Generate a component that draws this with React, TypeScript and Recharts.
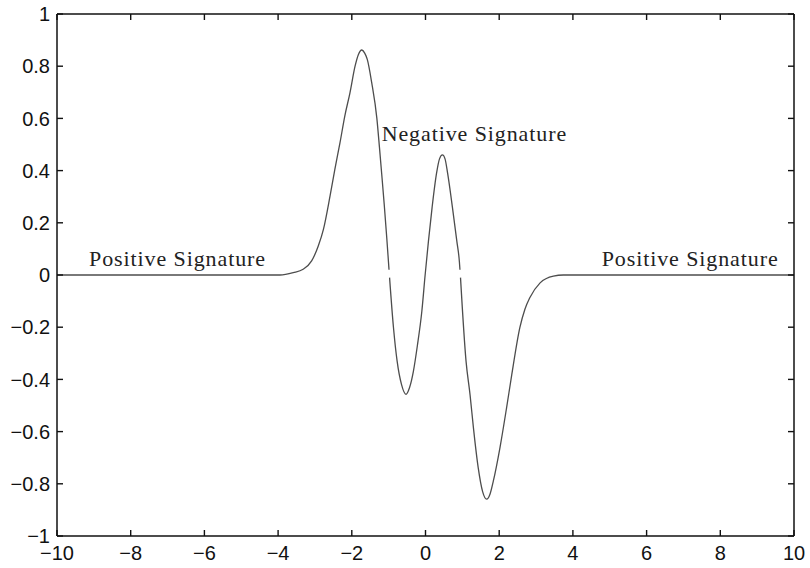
import { LineChart, Line, XAxis, YAxis, ReferenceDot } from 'recharts';

// wavelet signature, sampled along x; null entries mark the two breaks in the trace
const xValues = [
  -10, -3.95, -3.59, -3.32, -3.09, -2.91, -2.77, -2.59, -2.46, -2.32, -2.19, -2.05,
  -1.91, -1.82, -1.73, -1.65, -1.58, -1.46, -1.32, -1.25, -1.19, -1.12, -1.05, -1.0,
  -0.99, -0.982, -0.975, -0.87, -0.77, -0.65, -0.53, -0.43, -0.33, -0.22, -0.1, -0.01,
  0.08, 0.18, 0.3, 0.38, 0.46, 0.53, 0.6, 0.73, 0.85, 0.92, 0.935, 0.943, 0.95, 1.1,
  1.21, 1.3, 1.43, 1.55, 1.66, 1.75, 1.84, 2.02, 2.2, 2.34, 2.56, 2.7, 2.83, 3.11,
  3.47, 3.74, 10,
];
const yValues = [
  0, 0, 0.009, 0.022, 0.054, 0.111, 0.175, 0.303, 0.405, 0.507, 0.609, 0.698,
  0.801, 0.845, 0.862, 0.85, 0.826, 0.737, 0.6, 0.49, 0.39, 0.27, 0.14, 0.04,
  0.02, null, -0.01, -0.2, -0.33, -0.42, -0.457, -0.43, -0.37, -0.27, -0.14, 0,
  0.13, 0.26, 0.39, 0.445, 0.46, 0.445, 0.39, 0.26, 0.13, 0.05, 0.02, null, -0.01, -0.33,
  -0.46, -0.585, -0.738, -0.83, -0.859, -0.84, -0.79, -0.662, -0.509, -0.383, -0.202, -0.13, -0.087, -0.03,
  -0.004, 0, 0,
];

const xTicks = [-10, -8, -6, -4, -2, 0, 2, 4, 6, 8, 10];
const yTicks = [-1, -0.8, -0.6, -0.4, -0.2, 0, 0.2, 0.4, 0.6, 0.8, 1];

const noteX = [-9.13, -1.19, 4.78];
const noteY = [0.034, 0.513, 0.034];
const noteText = ['Positive Signature', 'Negative Signature', 'Positive Signature'];

const curve = xValues.map((x, i) => ({ x, y: yValues[i] }));
const notes = noteText.map((text, i) => ({ x: noteX[i], y: noteY[i], text }));

// plot box edges, from the chart margins and axis sizes below
const PLOT_TOP = 14;
const PLOT_RIGHT = 794;
const TICK = 6;
const INK = '#111';

const fmt = (v: number) => String(v).replace('-', '\u2212');
const tickFont = { fontFamily: '"Liberation Sans", Arial, sans-serif', fontSize: 20, fill: INK };
const frameLine = { stroke: INK, strokeWidth: 1.5 };

// inward tick marks, repeated on the opposite side of the box
function BottomTick({ x, y, payload }: any) {
  return (
    <g>
      <line x1={x} x2={x} y1={y} y2={y - TICK} stroke={INK} strokeWidth={1.4} />
      <line x1={x} x2={x} y1={PLOT_TOP} y2={PLOT_TOP + TICK} stroke={INK} strokeWidth={1.4} />
      <text x={x} y={y + 10} dy="0.71em" textAnchor="middle" {...tickFont}>
        {fmt(payload.value)}
      </text>
    </g>
  );
}

function LeftTick({ x, y, payload }: any) {
  return (
    <g>
      <line x1={x} x2={x + TICK} y1={y} y2={y} stroke={INK} strokeWidth={1.4} />
      <line x1={PLOT_RIGHT} x2={PLOT_RIGHT - TICK} y1={y} y2={y} stroke={INK} strokeWidth={1.4} />
      <text x={x - 7} y={y} dy="0.355em" textAnchor="end" {...tickFont}>
        {fmt(payload.value)}
      </text>
    </g>
  );
}

function NoteLabel({ viewBox, text }: any) {
  return (
    <text
      x={viewBox.x}
      y={viewBox.y}
      fontFamily='"Liberation Serif", "Times New Roman", serif'
      fontSize={22}
      letterSpacing={0.9}
      fill="#222"
    >
      {text}
    </text>
  );
}

export default function App() {
  return (
    <div style={{ position: 'absolute', left: 0, top: 0, background: '#fff' }}>
      <LineChart
        width={810}
        height={568}
        data={curve}
        margin={{ top: 14, right: 16, bottom: 0, left: 0 }}
      >
        <XAxis
          dataKey="x"
          type="number"
          domain={[-10, 10]}
          allowDataOverflow
          ticks={xTicks}
          height={32}
          tickSize={0}
          tickMargin={0}
          axisLine={frameLine}
          tickLine={false}
          tick={<BottomTick />}
        />
        <YAxis
          type="number"
          domain={[-1, 1]}
          allowDataOverflow
          ticks={yTicks}
          width={57}
          tickSize={0}
          tickMargin={0}
          axisLine={frameLine}
          tickLine={false}
          tick={<LeftTick />}
        />
        {/* top and right edges of the box */}
        <XAxis
          xAxisId="top"
          orientation="top"
          type="number"
          domain={[-10, 10]}
          allowDataOverflow
          ticks={xTicks}
          height={1}
          mirror
          tick={false}
          tickLine={false}
          axisLine={frameLine}
        />
        <YAxis
          yAxisId="right"
          orientation="right"
          type="number"
          domain={[-1, 1]}
          allowDataOverflow
          ticks={yTicks}
          width={1}
          mirror
          tick={false}
          tickLine={false}
          axisLine={frameLine}
        />
        <Line
          type="monotone"
          dataKey="y"
          stroke="#4d4d4d"
          strokeWidth={1.3}
          dot={false}
          connectNulls={false}
          isAnimationActive={false}
        />
        {notes.map((n, i) => (
          <ReferenceDot
            key={i}
            x={n.x}
            y={n.y}
            r={0}
            fill="none"
            stroke="none"
            label={(props: any) => <NoteLabel {...props} text={n.text} />}
          />
        ))}
      </LineChart>
    </div>
  );
}
